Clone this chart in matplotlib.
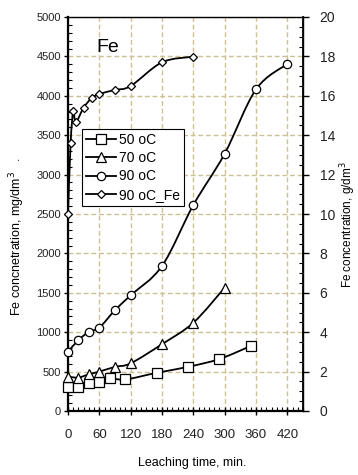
import numpy as np
import matplotlib
matplotlib.use("Agg")
import matplotlib.pyplot as plt
from matplotlib.path import Path
from matplotlib.patches import PathPatch
from matplotlib.lines import Line2D
from matplotlib.ticker import MultipleLocator

plt.rcParams['font.family'] = ['Liberation Sans', 'DejaVu Sans']

# Данные (мин, мг/дм3)
t_50 = [0, 20, 40, 60, 80, 110, 170, 230, 290, 350]
c_50 = [300, 310, 360, 370, 415, 400, 485, 560, 660, 825]

t_70 = [0, 20, 40, 60, 90, 120, 180, 240, 300]
c_70 = [435, 425, 465, 500, 560, 605, 848, 1120, 1565]

t_90 = [0, 20, 40, 60, 90, 120, 180, 240, 300, 360, 420]
c_90 = [752, 900, 1005, 1058, 1280, 1468, 1840, 2614, 3265, 4082, 4404]

t_fe = [0, 5, 10, 15, 30, 45, 60, 90, 120, 180, 240]
c_fe = [2500, 3400, 3805, 3665, 3850, 3968, 4023, 4074, 4124, 4425, 4497]

labels = ['50 oC', '70 oC', '90 oC', '90 oC_Fe']
markers = ['s', '^', 'o', 'D']
msizes = [7, 6.5, 6, 4.5]

XMAX, YMAX = 450, 5000
AX_W, AX_H = 235, 394  # px


def smooth_path(x, y):
    # сглаженная линия как в Excel (Catmull-Rom -> Bezier)
    px = np.asarray(x, float) * AX_W / XMAX
    py = np.asarray(y, float) * AX_H / YMAX
    pts = np.column_stack([px, py])
    n = len(pts)
    verts = [pts[0]]
    codes = [Path.MOVETO]
    for i in range(n - 1):
        p0 = pts[i - 1] if i > 0 else pts[i]
        p1 = pts[i]
        p2 = pts[i + 1]
        p3 = pts[i + 2] if i + 2 < n else pts[i + 1]
        c1 = p1 + (p2 - p0) / 6
        c2 = p2 - (p3 - p1) / 6
        verts += [c1, c2, p2]
        codes += [Path.CURVE4] * 3
    verts = np.array(verts)
    verts[:, 0] *= XMAX / AX_W
    verts[:, 1] *= YMAX / AX_H
    return Path(verts, codes)


fig = plt.figure(figsize=(3.58, 4.75), dpi=100)
ax = fig.add_axes([68 / 358, 1 - 411 / 475, AX_W / 358, AX_H / 475])

series = [(t_50, c_50), (t_70, c_70), (t_90, c_90), (t_fe, c_fe)]
handles = []
for (tx, cy), lab, mk, ms in zip(series, labels, markers, msizes):
    ax.add_patch(PathPatch(smooth_path(tx, cy), fill=False, edgecolor='black', lw=1.3, zorder=3))
    ax.plot(tx, cy, ls='none', marker=mk, ms=ms, mfc='white', mec='black', mew=0.9, zorder=4, clip_on=False)
    handles.append(Line2D([], [], color='black', lw=1.3, marker=mk, ms=ms, mfc='white', mec='black', mew=0.9))

ax.set_xlim(0, XMAX)
ax.set_ylim(0, YMAX)
ax.xaxis.set_major_locator(MultipleLocator(60))
ax.xaxis.set_minor_locator(MultipleLocator(10))
ax.yaxis.set_major_locator(MultipleLocator(500))
ax.yaxis.set_minor_locator(MultipleLocator(100))
ax.set_xticks(range(0, 421, 60))

ax.grid(True, which='major', color='#cdc193', ls=(0, (3.5, 2)), lw=1)
ax.set_axisbelow(True)

ax.tick_params(axis='y', which='major', direction='out', length=3, width=1, labelsize=8, pad=2,
               labelcolor='#222222')
ax.tick_params(axis='y', which='minor', direction='in', length=3, width=0.8)
ax.tick_params(axis='x', which='major', direction='inout', length=6, width=1, labelsize=9.5, pad=10,
               labelcolor='#222222')
ax.tick_params(axis='x', which='minor', direction='in', length=3, width=0.8)

ax.spines['left'].set_linewidth(1.6)
ax.spines['bottom'].set_linewidth(1.6)
ax.spines['top'].set_linewidth(1)
ax.spines['right'].set_linewidth(1)

ax2 = ax.twinx()
ax2.set_ylim(0, 20)
ax2.yaxis.set_major_locator(MultipleLocator(2))
ax2.yaxis.set_minor_locator(MultipleLocator(0.5))
ax2.tick_params(axis='y', which='major', direction='out', length=4, width=1, labelsize=10, pad=8,
                labelcolor='#222222')
ax2.tick_params(axis='y', which='minor', direction='in', length=3, width=0.8)
for s in ax2.spines.values():
    s.set_visible(False)
ax2.spines['right'].set_visible(True)
ax2.spines['right'].set_linewidth(1.3)

leg = ax.legend(handles, labels, loc='upper left', bbox_to_anchor=(13.5 / AX_W, 1 - 112 / AX_H),
                fontsize=10, frameon=True, fancybox=False, edgecolor='black', framealpha=1,
                handlelength=2.2, handletextpad=0.2, borderpad=0.3, labelspacing=0.3, borderaxespad=0)
leg.get_frame().set_linewidth(0.8)
leg.set_zorder(5)

ax.text(96 / 358, 1 - 47 / 475, 'Fe', transform=fig.transFigure, fontsize=14, va='center', ha='left')

fig.text(17 / 358, 1 - 237 / 475, 'Fe concnetration, mg/dm$^3$   .', rotation=90,
         ha='center', va='center', fontsize=9)
fig.text(348 / 358, 1 - 225 / 475, 'Fe concentration, g/dm$^3$', rotation=90,
         ha='center', va='center', fontsize=8.5)
fig.text(192 / 358, 1 - 463 / 475, 'Leaching time, min.', ha='center', va='center', fontsize=9)

fig.savefig('out.png', dpi=100)
